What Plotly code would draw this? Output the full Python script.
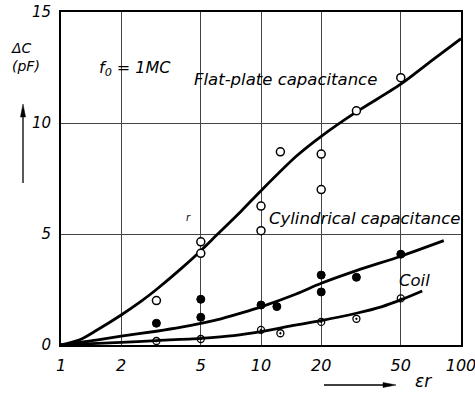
import plotly.graph_objects as go

# ---- data ----
flat_pts_x = [3, 5, 5, 10, 10, 12.5, 20, 20, 30, 50]
flat_pts_y = [2.0, 4.65, 4.13, 6.26, 5.15, 8.7, 8.6, 7.0, 10.55, 12.04]

cyl_pts_x = [3, 5, 5, 10, 12, 20, 20, 30, 50]
cyl_pts_y = [0.98, 2.06, 1.25, 1.80, 1.73, 3.15, 2.39, 3.05, 4.09]

coil_pts_x = [3, 5, 10, 12.5, 20, 30, 50]
coil_pts_y = [0.18, 0.27, 0.68, 0.53, 1.04, 1.18, 2.10]

flat_curve_x = [1, 1.25, 1.5, 2, 2.5, 3, 4, 5, 6, 8, 10, 15, 20, 30, 50, 70, 100]
flat_curve_y = [0, 0.25, 0.65, 1.35, 1.95, 2.5, 3.45, 4.25, 4.95, 6.05, 6.95, 8.5,
                9.4, 10.5, 11.75, 12.75, 13.8]

cyl_curve_x = [1, 1.5, 2, 3, 4, 5, 6, 8, 10, 15, 20, 30, 50, 82]
cyl_curve_y = [0, 0.22, 0.4, 0.62, 0.8, 0.97, 1.13, 1.45, 1.72, 2.3, 2.78, 3.35, 4.0, 4.7]

coil_curve_x = [1, 2, 3, 5, 7.3, 10, 14.5, 20, 30, 40, 50, 64]
coil_curve_y = [0, 0.12, 0.2, 0.3, 0.42, 0.6, 0.88, 1.1, 1.43, 1.72, 2.03, 2.43]

x_ticks = [1, 2, 5, 10, 20, 50, 100]
x_tick_labels = ["1", "2", "5", "10", "20", "50", "100"]
y_ticks = [0, 5, 10, 15]
y_tick_labels = ["0", "5", "10", "15"]

# ---- layout geometry ----
W, H = 475, 393
L, R, T, B = 61, 14, 12, 48
PW, PH = W - L - R, H - T - B


def px(x):
    return (x - L) / PW


def py(y):
    return (H - B - y) / PH


FONT = "DejaVu Sans"

fig = go.Figure()

for cx, cy in [(flat_curve_x, flat_curve_y), (cyl_curve_x, cyl_curve_y), (coil_curve_x, coil_curve_y)]:
    fig.add_trace(go.Scatter(x=cx, y=cy, mode="lines",
                             line=dict(color="black", width=2.8, shape="spline", smoothing=0.8),
                             showlegend=False, hoverinfo="skip"))

fig.add_trace(go.Scatter(x=flat_pts_x, y=flat_pts_y, mode="markers",
                         marker=dict(symbol="circle", size=8, color="white",
                                     line=dict(color="black", width=1.5)),
                         showlegend=False))
fig.add_trace(go.Scatter(x=cyl_pts_x, y=cyl_pts_y, mode="markers",
                         marker=dict(symbol="circle", size=8, color="black",
                                     line=dict(color="black", width=1)),
                         showlegend=False))
fig.add_trace(go.Scatter(x=coil_pts_x, y=coil_pts_y, mode="markers",
                         marker=dict(symbol="circle-open-dot", size=7, color="black",
                                     line=dict(color="black", width=1.3)),
                         showlegend=False))

fig.update_xaxes(type="log", range=[0, 2], tickvals=x_ticks, ticktext=x_tick_labels,
                 showgrid=True, gridcolor="#444", gridwidth=1, automargin=False,
                 showline=True, linecolor="black", linewidth=2, mirror=True,
                 ticks="", ticklabelstandoff=5, zeroline=False, ticklabeloverflow="allow",
                 tickfont=dict(family=FONT, size=16, style="italic", color="black"))
fig.update_yaxes(range=[0, 15], tickvals=y_ticks, ticktext=y_tick_labels,
                 showgrid=True, gridcolor="#444", gridwidth=1, automargin=False,
                 showline=True, linecolor="black", linewidth=2, mirror=True,
                 ticks="", ticklabelstandoff=5, zeroline=False, ticklabeloverflow="allow",
                 tickfont=dict(family=FONT, size=15, style="italic", color="black"))

texts = [
    ("ΔC<br>(pF)", 9, 57, 14),
    ("f<sub>0</sub> = 1MC", 97, 68, 16),
    ("Flat-plate capacitance", 192, 79, 16.5),
    ("Cylindrical capacitance", 267, 218, 16.5),
    ("Coil", 397, 280, 16.5),
    ("ε<i>r</i>", 413, 381, 17),
    ("r", 184, 217, 10),
]
for t, x, y, s in texts:
    fig.add_annotation(text=t, x=px(x), y=py(y), xref="paper", yref="paper",
                       xanchor="left", yanchor="middle", showarrow=False, align="left",
                       font=dict(family=FONT, size=s, style="italic", color="black"))

# axis arrows as shapes
arrow_line = dict(color="black", width=1.3)
fig.add_shape(type="line", xref="paper", yref="paper",
              x0=px(23), y0=py(183), x1=px(23), y1=py(112), line=arrow_line)
fig.add_shape(type="path", xref="paper", yref="paper",
              path=f"M {px(23)} {py(104)} L {px(20.5)} {py(117)} L {px(25.5)} {py(117)} Z",
              fillcolor="black", line=dict(color="black", width=0.5))
fig.add_shape(type="line", xref="paper", yref="paper",
              x0=px(324), y0=py(385), x1=px(386), y1=py(385), line=arrow_line)
fig.add_shape(type="path", xref="paper", yref="paper",
              path=f"M {px(396)} {py(385)} L {px(383)} {py(382.5)} L {px(383)} {py(387.5)} Z",
              fillcolor="black", line=dict(color="black", width=0.5))

fig.update_layout(width=W, height=H, margin=dict(l=L, r=R, t=T, b=B),
                  plot_bgcolor="white", paper_bgcolor="white",
                  font=dict(family=FONT, style="italic", color="black"),
                  showlegend=False)

fig.write_html("out.html")
